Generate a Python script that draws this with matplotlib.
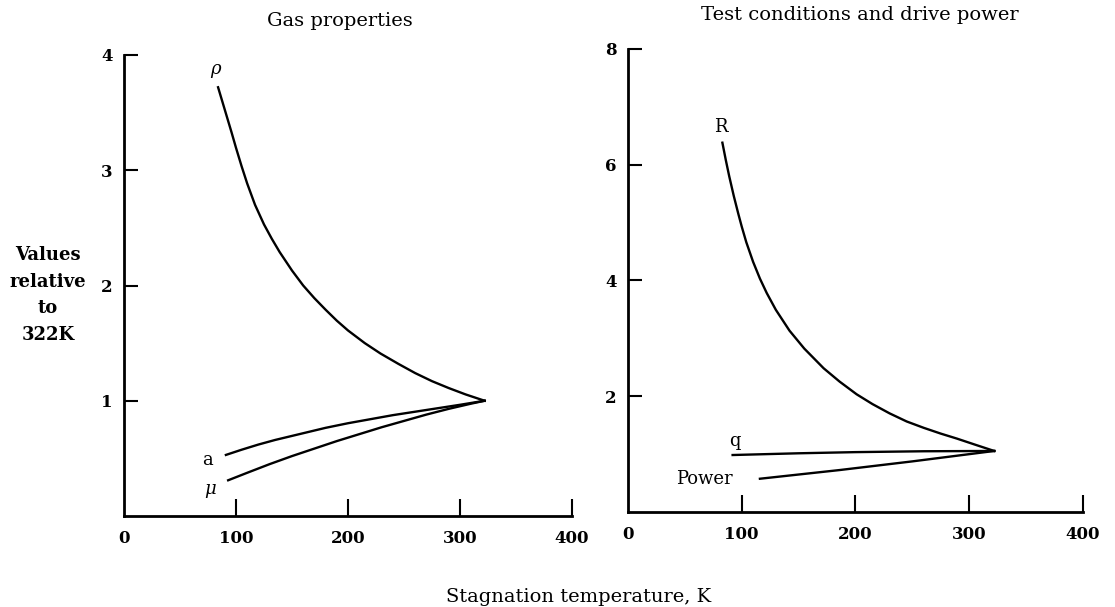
import matplotlib
matplotlib.use("Agg")
import matplotlib.pyplot as plt

plt.rcParams['font.family'] = ['DejaVu Serif']
plt.rcParams['mathtext.fontset'] = 'dejavuserif'

# Gas properties, relative to 322 K
rhoT = [84, 88, 92, 96, 100, 105, 110, 117, 125, 132, 139, 150, 160, 170,
        180, 190, 200, 215, 229, 245, 260, 275, 290, 305, 322]
rhoV = [3.72, 3.59, 3.46, 3.33, 3.195, 3.035, 2.885, 2.70, 2.53, 2.405, 2.29,
        2.13, 2.00, 1.89, 1.79, 1.695, 1.61, 1.50, 1.41, 1.32, 1.24, 1.17,
        1.11, 1.055, 1.0]
aT = [91, 105, 120, 135, 150, 165, 180, 200, 220, 240, 260, 280, 300, 322]
aV = [0.53, 0.575, 0.62, 0.66, 0.695, 0.73, 0.765, 0.805, 0.84, 0.875, 0.905,
      0.935, 0.965, 1.0]
muT = [93, 110, 130, 150, 170, 190, 210, 230, 250, 270, 290, 310, 322]
muV = [0.31, 0.375, 0.45, 0.52, 0.585, 0.65, 0.71, 0.77, 0.825, 0.88, 0.93,
       0.975, 1.0]

# Test conditions and drive power
RT = [83, 86, 89, 93, 97, 100, 104, 110, 116, 122, 130, 142, 155, 172, 186,
      201, 215, 230, 245, 260, 275, 289, 305, 322]
RV = [6.38, 6.08, 5.80, 5.46, 5.15, 4.93, 4.66, 4.32, 4.03, 3.78, 3.49, 3.13,
      2.82, 2.48, 2.25, 2.03, 1.86, 1.70, 1.56, 1.45, 1.35, 1.265, 1.16, 1.05]
qT = [92, 150, 200, 260, 322]
qV = [0.98, 1.01, 1.03, 1.045, 1.05]
powT = [116, 186, 250, 322]
powV = [0.57, 0.72, 0.87, 1.05]

xticks = [0, 100, 200, 300, 400]


def styleAxes(ax, ymax, yticks):
    ax.set_xlim(0, 400)
    ax.set_ylim(0, ymax)
    for s in ['top', 'right']:
        ax.spines[s].set_visible(False)
    for s in ['left', 'bottom']:
        ax.spines[s].set_linewidth(2)
    ax.set_xticks(xticks)
    ax.set_xticklabels([str(t) for t in xticks], fontsize=12, fontweight='bold')
    ax.set_yticks(yticks)
    ax.set_yticklabels([str(t) for t in yticks], fontsize=12, fontweight='bold')
    ax.tick_params(axis='x', direction='in', length=12, width=1.5, pad=10)
    ax.tick_params(axis='y', direction='in', length=10, width=1.5, pad=8)
    ax.xaxis.get_major_ticks()[0].tick1line.set_visible(False)


def label(ax, txt, x, y, dx, dy, **kw):
    ax.annotate(txt, (x, y), xytext=(dx, dy), textcoords='offset points',
                fontsize=13, va='center', **kw)


fig = plt.figure(figsize=(11.15, 6.07), dpi=100)
ax1 = fig.add_axes([0.1112, 0.1499, 0.4018, 0.7595])
ax2 = fig.add_axes([0.5632, 0.1570, 0.4081, 0.7623])

lw = 1.7
ax1.plot(rhoT, rhoV, color='black', lw=lw)
ax1.plot(aT, aV, color='black', lw=lw)
ax1.plot(muT, muV, color='black', lw=lw)
styleAxes(ax1, 4, [1, 2, 3, 4])
label(ax1, r'$\rho$', rhoT[0], rhoV[0], -1.5, 11.5, ha='center')
label(ax1, 'a', aT[0], aV[0], -13, -4, ha='center')
label(ax1, r'$\mu$', muT[0], muV[0], -13, -8, ha='center')

ax2.plot(RT, RV, color='black', lw=lw)
ax2.plot(qT, qV, color='black', lw=lw)
ax2.plot(powT, powV, color='black', lw=lw)
styleAxes(ax2, 8, [2, 4, 6, 8])
label(ax2, 'R', RT[0], RV[0], -1.5, 11.5, ha='center')
label(ax2, 'q', qT[0], qV[0], 1.5, 10, ha='center')
label(ax2, 'Power', powT[0], powV[0], -19.5, 0, ha='right')

fig.text(0.305, 0.965, 'Gas properties', ha='center', va='center', fontsize=14)
fig.text(0.771, 0.975, 'Test conditions and drive power', ha='center',
         va='center', fontsize=14)
fig.text(0.043, 0.514, 'Values\nrelative\nto\n322K', ha='center', va='center',
         fontsize=13, fontweight='bold', linespacing=1.6)
fig.text(0.519, 0.017, 'Stagnation temperature, K', ha='center', va='center',
         fontsize=14)

plt.savefig('out.png', dpi=100)
